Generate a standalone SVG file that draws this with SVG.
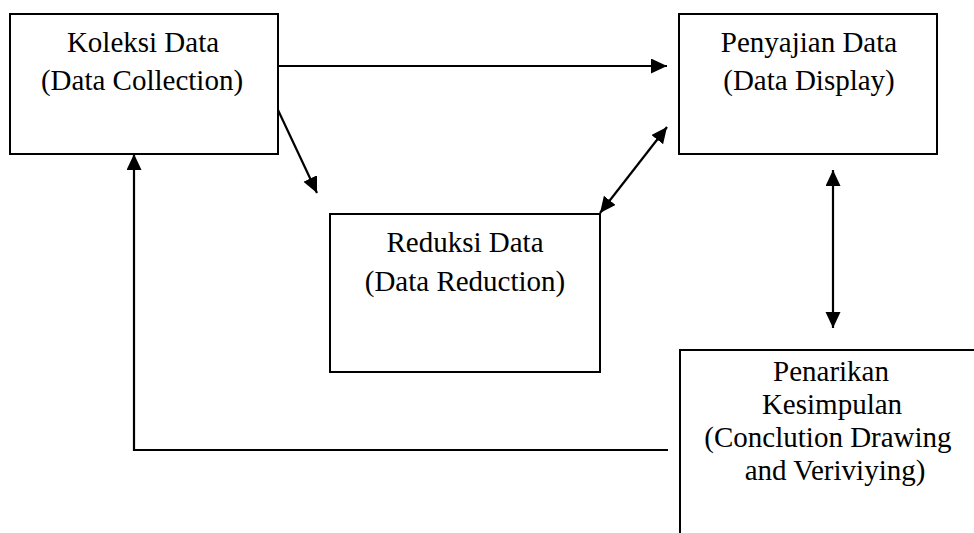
<svg xmlns="http://www.w3.org/2000/svg" width="974" height="533" viewBox="0 0 974 533">
  <style>
    .box { fill: #ffffff; stroke: #000000; stroke-width: 2; }
    .open { fill: none; stroke: #000000; stroke-width: 2; }
    .lbl { font-family: "Liberation Serif", "Times New Roman", serif; font-size: 29px; fill: #000000; text-anchor: middle; }
    .link { fill: none; stroke: #000000; stroke-width: 2.2; }
  </style>
  <defs>
    <marker id="head" markerUnits="userSpaceOnUse" markerWidth="17" markerHeight="16" refX="16" refY="7.5" orient="auto-start-reverse">
      <path d="M0,0 L16,7.5 L0,15 Z" fill="#000000"/>
    </marker>
  </defs>
  <rect width="974" height="533" fill="#ffffff"/>

  <g id="node-koleksi">
    <rect class="box" x="10" y="14" width="268" height="140"/>
    <text class="lbl" x="143" y="52">Koleksi Data</text>
    <text class="lbl" x="142" y="90">(Data Collection)</text>
  </g>

  <g id="node-penyajian">
    <rect class="box" x="679" y="14" width="258" height="140"/>
    <text class="lbl" x="809" y="52">Penyajian Data</text>
    <text class="lbl" x="809" y="90">(Data Display)</text>
  </g>

  <g id="node-reduksi">
    <rect class="box" x="330" y="214" width="270" height="158"/>
    <text class="lbl" x="465" y="252">Reduksi Data</text>
    <text class="lbl" x="465" y="291">(Data Reduction)</text>
  </g>

  <g id="node-penarikan">
    <path class="open" d="M974,350 H680 V533"/>
    <text class="lbl" x="831" y="381">Penarikan</text>
    <text class="lbl" x="832" y="414">Kesimpulan</text>
    <text class="lbl" x="828" y="447">(Conclution Drawing</text>
    <text class="lbl" x="835" y="480">and Veriviying)</text>
  </g>

  <g id="connectors">
    <line class="link" x1="278" y1="66" x2="667" y2="66" marker-end="url(#head)"/>
    <line class="link" x1="278" y1="110" x2="317" y2="193" marker-end="url(#head)"/>
    <line class="link" x1="600" y1="213" x2="667" y2="127" marker-start="url(#head)" marker-end="url(#head)"/>
    <line class="link" x1="833" y1="170" x2="833" y2="328" marker-start="url(#head)" marker-end="url(#head)"/>
    <polyline class="link" points="668,450 134,450 134,154" marker-end="url(#head)"/>
  </g>
</svg>
